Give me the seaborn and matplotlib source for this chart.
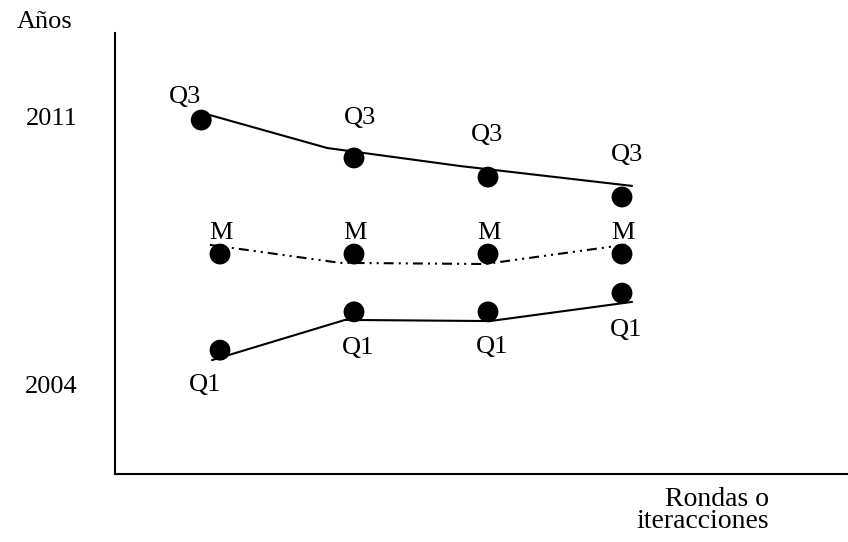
import pandas as pd
import matplotlib
matplotlib.use("Agg")
import matplotlib.pyplot as plt
import seaborn as sns

# Marcadores (ronda, año) de cada cuartil
rondas = [1, 2, 3, 4]
q3_x = [0.86, 2, 3, 4]
q3_y = [2010.92, 2009.93, 2009.43, 2008.91]
m_y = [2007.42, 2007.42, 2007.42, 2007.42]
q1_y = [2004.91, 2005.91, 2005.91, 2006.40]

# Trazos dibujados a mano (no pasan exactamente por los puntos)
q3_line_x = [0.925, 1.80, 2.79, 4.075]
q3_line_y = [2011.05, 2010.19, 2009.72, 2009.20]
m_line_x = [0.925, 1.896, 2.978, 4.06]
m_line_y = [2007.66, 2007.19, 2007.16, 2007.68]
q1_line_x = [0.94, 1.933, 3.015, 4.075]
q1_line_y = [2004.65, 2005.70, 2005.67, 2006.17]

year_ticks = [2004, 2011]

points = pd.DataFrame({
    "ronda": q3_x + rondas + rondas,
    "anio": q3_y + m_y + q1_y,
    "serie": ["Q3"] * 4 + ["M"] * 4 + ["Q1"] * 4,
})
lines = pd.DataFrame({
    "ronda": q3_line_x + m_line_x + q1_line_x,
    "anio": q3_line_y + m_line_y + q1_line_y,
    "serie": ["Q3"] * 4 + ["M"] * 4 + ["Q1"] * 4,
})

sns.set_style("white")
plt.rcParams['font.family'] = ['Liberation Serif', 'DejaVu Serif']
plt.rcParams['text.color'] = 'black'
plt.rcParams['ytick.color'] = 'black'

fig = plt.figure(figsize=(8.48, 5.42), dpi=100)
ax = fig.add_axes([115 / 848, 68 / 542, 733 / 848, 441 / 542])

sns.lineplot(data=lines, x="ronda", y="anio", hue="serie", style="serie",
             palette={"Q3": "black", "M": "black", "Q1": "black"},
             dashes={"Q3": "", "M": (4.8, 2.4, 1, 2.4, 1, 2.4), "Q1": ""},
             sort=False, estimator=None, linewidth=1.5, legend=False, ax=ax)
sns.scatterplot(data=points, x="ronda", y="anio", color="black", s=225,
                edgecolor="none", legend=False, ax=ax, zorder=3)

# etiquetas de cada punto (desplazamiento en puntos)
q3_off = [(-11.5, 16.5), (4.3, 28.8), (-0.7, 30.2), (3.6, 30.2)]
q1_off = [(-10.8, -25.2), (2.9, -25.9), (2.9, -25.2), (2.9, -26.6)]
for x, y, off in zip(q3_x, q3_y, q3_off):
    ax.annotate("Q3", (x, y), xytext=off, textcoords="offset points",
                ha="center", va="center", fontsize=19)
for x, y in zip(rondas, m_y):
    ax.annotate("M", (x, y), xytext=(0.5, 15), textcoords="offset points",
                ha="center", va="center", fontsize=19)
for x, y, off in zip(rondas, q1_y, q1_off):
    ax.annotate("Q1", (x, y), xytext=off, textcoords="offset points",
                ha="center", va="center", fontsize=19)

ax.set_xlim(0.2164, 5.6866)
ax.set_ylim(2001.675, 2013.194)
ax.set_xticks([])
ax.set_yticks(year_ticks)
ax.set_yticklabels([str(t) for t in year_ticks], fontsize=19)
ax.tick_params(axis="y", length=0, pad=27, labelcolor="black")
ax.set_xlabel("")
ax.set_ylabel("")
for side in ["top", "right"]:
    ax.spines[side].set_visible(False)
for side in ["left", "bottom"]:
    ax.spines[side].set_color("black")
    ax.spines[side].set_linewidth(1.5)

fig.text(45 / 848, 1 - 22 / 542, "Años", ha="center", va="center", fontsize=19)
fig.text(769 / 848, 1 - 499 / 542, "Rondas o", ha="right", va="center", fontsize=20)
fig.text(769 / 848, 1 - 522 / 542, "iteracciones", ha="right", va="center", fontsize=20)

fig.savefig("out.png", dpi=100)
